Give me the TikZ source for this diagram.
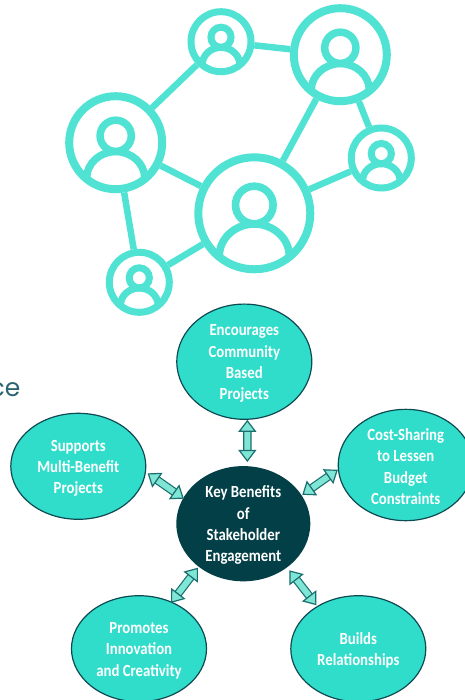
\documentclass[tikz,border=0pt]{standalone}
\usepackage{fontspec}
\setmainfont{Carlito}[FakeStretch=0.87]
\newfontfamily\cefont{Poppins}
\usetikzlibrary{shapes.geometric,arrows.meta}
\definecolor{icon}{HTML}{50E3D3}
\definecolor{bubble}{HTML}{30DDCB}
\definecolor{rim}{HTML}{0E4A52}
\definecolor{hubfill}{HTML}{033F47}
\definecolor{arrowfill}{HTML}{7FE6D6}
\definecolor{arrowrim}{HTML}{1A6E6E}
\definecolor{cetext}{HTML}{2A6470}
\newcommand\dn{\rule{0pt}{15pt}}
\tikzset{
  bubblebase/.style={ellipse,minimum width=135pt,minimum height=106pt,inner sep=0pt,align=center,
    text=white,font=\fontsize{17}{21.2}\selectfont\bfseries},
  benefit/.style={bubblebase,fill=bubble,draw=rim,line width=1.2pt},
  hub/.style={bubblebase,fill=hubfill,minimum width=134pt},
  ring/.style={circle,draw=icon,line width=#1,inner sep=0pt},
  link/.style={draw=icon,line width=6.5pt},
  both/.style={line width=1.2pt,draw=arrowrim,double=arrowfill,double distance=6pt,
    {Triangle[length=12pt,width=18pt,line width=1.2pt,fill=arrowfill,color=arrowrim]}-{Triangle[length=12pt,width=18pt,line width=1.2pt,fill=arrowfill,color=arrowrim]}},
  pics/person/.style n args={2}{code={
    \begin{scope}[scale=#1/56]
      \draw[icon,line width=#2] (0,-8.3) circle[radius=18.8];
      \draw[icon,line width=#2] (-35,42.7) .. controls (-35,25) and (-19,10.7) .. (0,10.7)
        .. controls (19,10.7) and (35,25) .. (35,42.7);
    \end{scope}
  }}
}
\begin{document}
\begin{tikzpicture}[x=1pt,y=-1pt]
\useasboundingbox (0,0) rectangle (464,700);
% network icon
\node[ring=8pt,minimum size=93pt] (pa) at (115.7,142.7) {};
\node[ring=7pt,minimum size=60pt] (pb) at (221,41.7) {};
\node[ring=8pt,minimum size=93pt] (pc) at (340.3,54.7) {};
\node[ring=7pt,minimum size=60pt] (pd) at (381.3,158) {};
\node[ring=8pt,minimum size=112pt] (pe) at (254.3,213.3) {};
\node[ring=7pt,minimum size=60pt] (pf) at (139.3,282.3) {};
\draw[link] (pa) -- (pb);
\draw[link] (pb) -- (pc);
\draw[link] (pa) -- (pe);
\draw[link] (pa) -- (pf);
\draw[link] (pf) -- (pe);
\draw[link] (pe) -- (pc);
\draw[link] (pe) -- (pd);
\draw[link] (pc) -- (pd);
\pic at (pa.center) {person={46.5}{7.5pt}};
\pic at (pb.center) {person={30}{7pt}};
\pic at (pc.center) {person={46.5}{7.5pt}};
\pic at (pd.center) {person={30}{7pt}};
\pic at (pe.center) {person={56}{7.6pt}};
\pic at (pf.center) {person={30}{7pt}};
% cut-off text
\node[anchor=base east,inner sep=0pt,text=cetext,font=\cefont\fontsize{25}{25}\selectfont] (ce) at (20.5,396) {ce};
% benefits
\node[benefit] (top) at (244.3,361.7) {\dn Encourages\\Community\\Based\\Projects};
\node[benefit] (left) at (78.3,466.3) {\dn Supports\\Multi-Benefit\\Projects};
\node[benefit] (right) at (405.7,465) {\dn Cost-Sharing\\to Lessen\\Budget\\Constraints};
\node[benefit] (bl) at (139,648.7) {\dn Promotes\\Innovation\\and Creativity};
\node[benefit] (br) at (358.3,648.7) {\dn Builds\\Relationships};
\node[hub] (hub) at (243.3,523.7) {\dn Key Benefits\\of\\Stakeholder\\Engagement};
% double arrows
\draw[both,shorten <=4pt,shorten >=0pt] (hub.86.6) -- (top.-87.3);
\draw[both,shorten <=-1pt,shorten >=2pt] (hub.157) -- (left.-5);
\draw[both,shorten <=0.6pt,shorten >=0pt] (hub.26.6) -- (right.184);
\draw[both,shorten <=1pt,shorten >=-1.4pt] (hub.224.4) -- (bl.55.3);
\draw[both,shorten <=3.5pt,shorten >=1pt] (hub.-45.2) -- (br.134.7);
\end{tikzpicture}
\end{document}
